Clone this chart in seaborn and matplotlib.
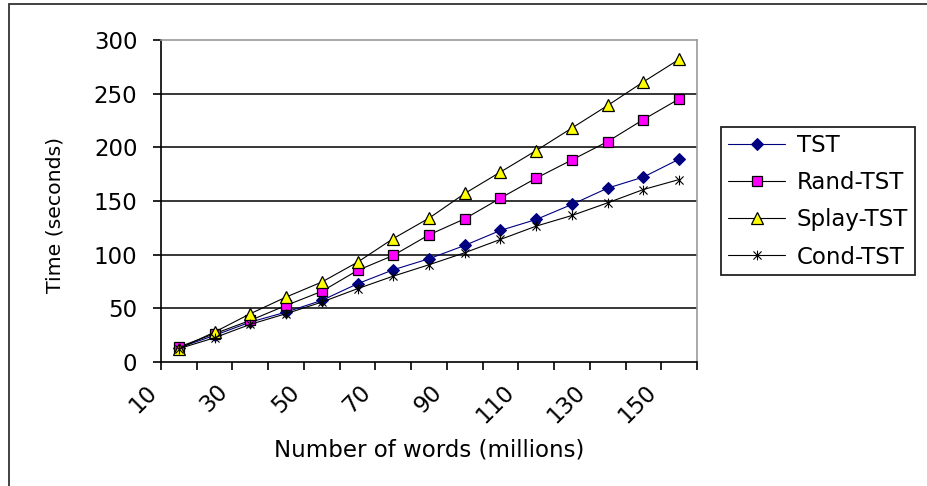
import numpy as np
import pandas as pd
import matplotlib
matplotlib.use("Agg")
import matplotlib.pyplot as plt
import matplotlib.transforms as mtransforms
from matplotlib.path import Path
from matplotlib.patches import Rectangle
import seaborn as sns

# Corpus sizes (millions of words) and build times (seconds)
words = [10, 20, 30, 40, 50, 60, 70, 80, 90, 100, 110, 120, 130, 140, 150]
tst = [13.3, 24.8, 37.2, 46.5, 57.4, 72.9, 85.9, 96.2, 108.6, 122.6, 132.8, 146.8, 162.0, 172.3, 189.0]
rand_tst = [14.0, 26.4, 38.8, 52.7, 65.8, 85.3, 99.3, 118.5, 133.4, 152.7, 171.3, 188.3, 205.4, 225.9, 245.1]
splay_tst = [12.4, 27.9, 45.0, 60.5, 74.5, 93.0, 115.0, 134.0, 157.0, 177.0, 197.0, 218.0, 239.0, 261.0, 282.0]
cond_tst = [12.4, 22.6, 35.1, 45.0, 55.8, 68.3, 80.0, 90.6, 101.8, 114.2, 126.6, 136.5, 148.3, 160.7, 170.0]
series_names = ["TST", "Rand-TST", "Splay-TST", "Cond-TST"]
xtick_labels = ["10", "30", "50", "70", "90", "110", "130", "150"]
yticks = [0, 50, 100, 150, 200, 250, 300]

sns.set_style("white", {"text.color": "black", "xtick.color": "black",
                        "ytick.color": "black", "axes.labelcolor": "black"})
plt.rcParams["font.family"] = ["DejaVu Sans"]
FS = 16.5

rows = []
for name, vals in zip(series_names, [tst, rand_tst, splay_tst, cond_tst]):
    for i, (w, v) in enumerate(zip(words, vals)):
        rows.append({"series": name, "words": w, "pos": i, "time": v})
df = pd.DataFrame(rows)

# Excel-style "star" marker: an x crossed by a vertical bar
star = Path([(-1, -1), (1, 1), (-1, 1), (1, -1), (0, -1.2), (0, 1.2)],
            [Path.MOVETO, Path.LINETO, Path.MOVETO, Path.LINETO, Path.MOVETO, Path.LINETO])

styles = {
    "TST": dict(color="#000080", marker="D", markersize=6.5, markerfacecolor="#000080",
                markeredgecolor="#000080"),
    "Rand-TST": dict(color="black", marker="s", markersize=7.5, markerfacecolor="#FF00FF",
                     markeredgecolor="black", markeredgewidth=0.9),
    "Splay-TST": dict(color="black", marker="^", markersize=8.5, markerfacecolor="#FFFF00",
                      markeredgecolor="black", markeredgewidth=0.9),
    "Cond-TST": dict(color="black", marker=star, markersize=7, markerfacecolor="none",
                     markeredgecolor="black", markeredgewidth=0.8),
}

fig = plt.figure(figsize=(9.27, 4.86), dpi=100)
W, H = 927, 486
ax = fig.add_axes([161 / W, 1 - 362 / H, (697 - 161) / W, (362 - 40) / H])

n = len(words)
ax.set_xlim(-0.5, n - 0.5)
ax.set_ylim(0, 300)

# horizontal gridlines
for yv in yticks[1:-1]:
    ax.axhline(yv, color="black", lw=1.1, zorder=1)

for name in series_names:
    sub = df[df["series"] == name]
    sns.lineplot(data=sub, x="pos", y="time", ax=ax, label=name, lw=0.8,
                 zorder=3, clip_on=False, **styles[name])

# axes styling
for side in ["left", "bottom"]:
    ax.spines[side].set_color("black")
    ax.spines[side].set_linewidth(1.2)
for side in ["top", "right"]:
    ax.spines[side].set_color("#999999")
    ax.spines[side].set_linewidth(1.2)

ax.set_yticks(yticks)
ax.set_yticklabels([str(v) for v in yticks], fontsize=FS)
bounds = np.arange(-0.5, n, 1.0)
ax.set_xticks(bounds)
labels = [""] * len(bounds)
for k, t in enumerate(xtick_labels):
    labels[2 * k] = t
ax.set_xticklabels(labels, fontsize=FS, rotation=45, ha="right", va="center",
                   rotation_mode="anchor")
ax.tick_params(axis="both", direction="out", length=6, width=1.2, color="black",
               labelcolor="black", left=True, bottom=True)
ax.tick_params(axis="y", pad=11)
ax.tick_params(axis="x", pad=13)
shift = mtransforms.ScaledTranslation(-8 / 100, 0, fig.dpi_scale_trans)
for lab in ax.get_xticklabels():
    lab.set_transform(lab.get_transform() + shift)

ax.set_xlabel("")
ax.set_ylabel("")
fig.text(55 / W, 1 - 215 / H, "Time (seconds)", rotation=90, ha="center", va="center",
         fontsize=14.7, color="black")
fig.text(429 / W, 1 - 450 / H, "Number of words (millions)", ha="center", va="center",
         fontsize=FS, color="black")

leg = ax.legend(loc="upper left", bbox_to_anchor=(721 / W, 1 - 127 / H),
                bbox_transform=fig.transFigure, fontsize=FS, frameon=True, fancybox=False,
                edgecolor="#222222", framealpha=1, borderpad=0.3, labelspacing=0.62,
                handlelength=2.5, handletextpad=0.5, borderaxespad=0)
leg.get_frame().set_linewidth(1.3)
for txt in leg.get_texts():
    txt.set_color("black")

# chart-area border
fig.patches.append(Rectangle((9 / W, -0.1), 1.2, 1 - 3.5 / H + 0.1, transform=fig.transFigure,
                             fill=False, edgecolor="#333333", lw=1.3))

fig.savefig("out.png", dpi=100, facecolor="white")
